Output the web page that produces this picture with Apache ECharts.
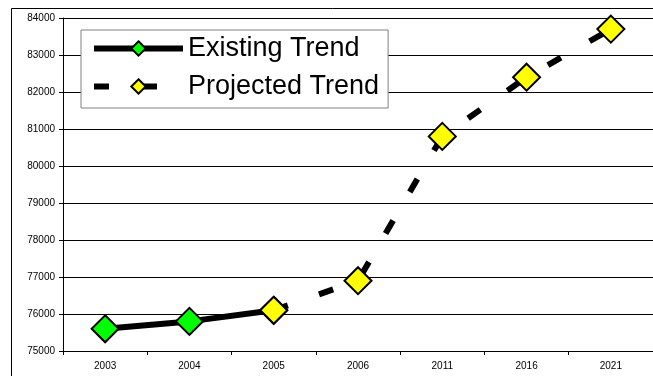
<!DOCTYPE html>
<html>
<head>
<meta charset="utf-8">
<script src="https://cdn.jsdelivr.net/npm/echarts@6/dist/echarts.min.js"></script>
<style>
html,body{margin:0;padding:0;background:#fff;}
#chart{width:653px;height:376px;}
</style>
</head>
<body>
<div id="chart"></div>
<script>
const categories = ['2003', '2004', '2005', '2006', '2011', '2016', '2021'];
const existingTrend = [75600, 75800, 76100, null, null, null, null];
const projectedTrend = [null, null, 76100, 76900, 80800, 82400, 83700];
const yMin = 75000, yMax = 84000, yStep = 1000;

const chart = echarts.init(document.getElementById('chart'), null, {renderer: 'canvas'});
const font = 'Liberation Sans, Arial, sans-serif';
chart.setOption({
  animation: false,
  backgroundColor: '#fff',
  graphic: [{
    type: 'rect', z: 100, silent: true,
    shape: {x: 11.5, y: 8.5, width: 1000, height: 1000},
    style: {fill: 'none', stroke: '#000', lineWidth: 1}
  }],
  grid: {left: 63, top: 18, bottom: 25, right: -9},
  legend: {
    orient: 'vertical', left: 81, top: 30,
    backgroundColor: '#fff', borderColor: '#808080', borderWidth: 1,
    padding: [5, 9, 8, 10],
    itemWidth: 89, itemHeight: 18, itemGap: 11,
    lineStyle: {width: 6},
    textStyle: {fontFamily: font, fontSize: 27, lineHeight: 25, color: '#000'},
    data: ['Existing Trend', 'Projected Trend']
  },
  xAxis: {
    type: 'category', data: categories, boundaryGap: true,
    axisLine: {lineStyle: {color: '#000', width: 1}},
    axisTick: {show: true, alignWithLabel: false, length: 4, lineStyle: {color: '#000'}},
    axisLabel: {fontFamily: font, fontSize: 10, color: '#000', margin: 10},
    splitLine: {show: false}
  },
  yAxis: {
    type: 'value', min: yMin, max: yMax, interval: yStep,
    axisLine: {show: true, lineStyle: {color: '#000', width: 1}},
    axisTick: {show: true, length: 4, lineStyle: {color: '#000'}},
    axisLabel: {fontFamily: font, fontSize: 10, color: '#000', margin: 8, formatter: v => String(v)},
    splitLine: {show: true, lineStyle: {color: '#000', width: 1}}
  },
  series: [
    {
      name: 'Existing Trend', type: 'line', data: existingTrend,
      symbol: 'diamond', symbolSize: 27,
      lineStyle: {color: '#000', width: 6},
      itemStyle: {color: '#00ff00', borderColor: '#000', borderWidth: 2},
      z: 2
    },
    {
      name: 'Projected Trend', type: 'line', data: projectedTrend,
      symbol: 'diamond', symbolSize: 27,
      lineStyle: {color: '#000', width: 6, type: [15, 33], cap: 'butt'},
      itemStyle: {color: '#ffff00', borderColor: '#000', borderWidth: 2},
      z: 3
    }
  ]
});
</script>
</body>
</html>
